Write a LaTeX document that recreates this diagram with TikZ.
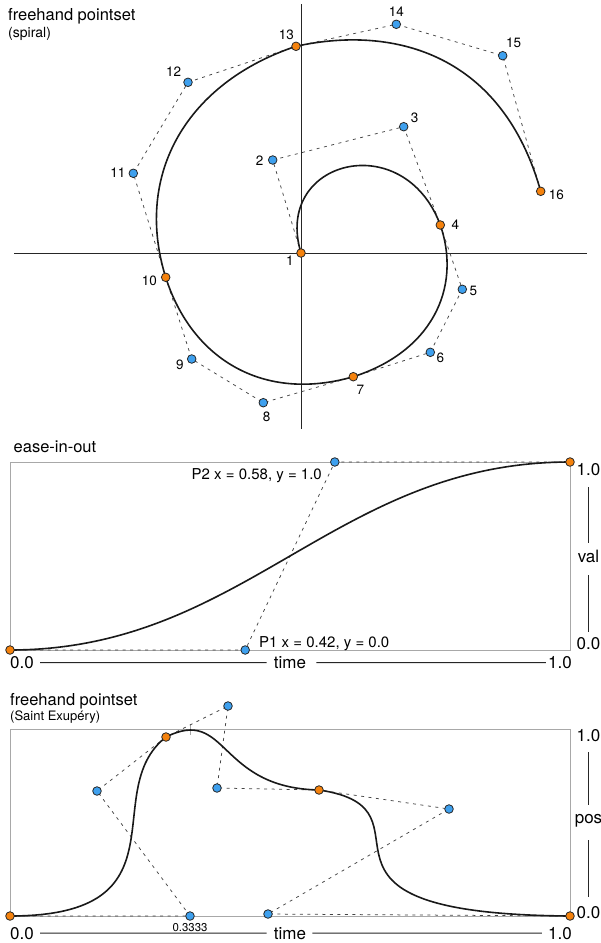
\documentclass[tikz,border=0pt]{standalone}
\usepackage{fontspec}
\setmainfont{TeX Gyre Heros}
\definecolor{ptorange}{HTML}{F5820D}
\definecolor{ptblue}{HTML}{3EA0EE}
\definecolor{boxgray}{HTML}{A8A8A8}
\definecolor{dashgray}{HTML}{454545}
\tikzset{
  orangept/.style={circle, fill=ptorange, draw=black!85, line width=0.8pt, minimum size=8.6pt, inner sep=0pt},
  bluept/.style={circle, fill=ptblue, draw=black!85, line width=0.8pt, minimum size=8.6pt, inner sep=0pt},
  ctrl/.style={draw=dashgray, line width=0.75pt, dash pattern=on 3pt off 4.5pt},
  curve/.style={draw=black!90, line width=1.6pt},
  axisline/.style={draw=black!85, line width=0.9pt},
  frame/.style={draw=boxgray, line width=1pt},
  num/.style={font=\fontsize{13.5}{15}\selectfont, inner sep=0pt},
  title/.style={font=\fontsize{16.5}{18}\selectfont, inner sep=0pt, anchor=base west},
  subtitle/.style={font=\fontsize{14}{15}\selectfont, inner sep=0pt, anchor=base west},
  subtitlesm/.style={font=\fontsize{13}{15}\selectfont, inner sep=0pt, anchor=base west},
  axlabel/.style={font=\fontsize{17}{19}\selectfont, inner sep=0pt},
  ptlabel/.style={font=\fontsize{15}{17}\selectfont, inner sep=0pt},
  ticklabel/.style={font=\fontsize{11.4}{13}\selectfont, inner sep=0pt},
}
\begin{document}
\begin{tikzpicture}[x=1pt,y=-1pt]
\useasboundingbox (0,0) rectangle (601,943);

% ================= spiral =================
\node[title] (t1) at (8,20.5) {freehand pointset};
\node[subtitle] (t1s) at (8,37.5) {(spiral)};

\coordinate (hl) at (14,253);
\coordinate (hr) at (587,253);
\coordinate (vt) at (301,4);
\coordinate (vb) at (301,429);
\draw[axisline] (hl) -- (hr);
\draw[axisline] (vt) -- (vb);

\foreach \n/\x/\y in {1/301/253, 2/272.7/160, 3/403.7/126.7, 4/440.3/225,
  5/462.3/289.3, 6/430.3/352.3, 7/353.3/376.7, 8/263.3/402.7, 9/191.7/359,
  10/165.7/277.3, 11/133.3/173.3, 12/188/82.3, 13/296/46.3, 14/396.3/24.3,
  15/502.7/55.7, 16/540.7/191.3}
  \coordinate (s\n) at (\x,\y);

\draw[ctrl] (s1) -- (s2) -- (s3) -- (s4) -- (s5) -- (s6) -- (s7) -- (s8) -- (s9)
  -- (s10) -- (s11) -- (s12) -- (s13) -- (s14) -- (s15) -- (s16);
\draw[curve] (s1) .. controls (s2) and (s3) .. (s4)
  .. controls (s5) and (s6) .. (s7)
  .. controls (s8) and (s9) .. (s10)
  .. controls (s11) and (s12) .. (s13)
  .. controls (s14) and (s15) .. (s16);

\foreach \n in {1,4,7,10,13,16} \node[orangept] (p\n) at (s\n) {};
\foreach \n in {2,3,5,6,8,9,11,12,14,15} \node[bluept] (p\n) at (s\n) {};

\foreach \n/\dx/\dy in {1/-11/8, 2/-13/1, 3/11/-8.5, 4/15/0, 5/11/1.3, 6/10/6,
  7/7/13.3, 8/3.4/14, 9/-11.7/5.7, 10/-16.4/4, 11/-15.5/-0.5, 12/-14.3/-10.3,
  13/-9.7/-11, 14/0/-13, 15/11/-13, 16/15.6/4}
  \node[num] (l\n) at ([shift={(\dx,\dy)}]s\n) {\n};

% ================= ease-in-out =================
\node[title] (t2) at (13.5,452.5) {ease-in-out};
\draw[frame] (10,462) rectangle (570,650);

\coordinate (e0) at (10,650);
\coordinate (e1) at (245.2,650);
\coordinate (e2) at (334.8,462);
\coordinate (e3) at (570,462);
\draw[ctrl] (e0) -- (e1) -- (e2) -- (e3);
\draw[curve] (e0) .. controls (e1) and (e2) .. (e3);
\node[orangept] (q0) at (e0) {};
\node[bluept] (q1) at (e1) {};
\node[bluept] (q2) at (e2) {};
\node[orangept] (q3) at (e3) {};
\node[ptlabel, anchor=base east] (lp2) at (322,479) {P2 x = 0.58, y = 1.0};
\node[ptlabel, anchor=base west] (lp1) at (259,647) {P1 x = 0.42, y = 0.0};

\node[axlabel, anchor=base west] (ex0) at (10,668.5) {0.0};
\node[axlabel, anchor=base] (ext) at (290,668.5) {time};
\node[axlabel, anchor=base east] (ex1) at (572,668.5) {1.0};
\draw[axisline, shorten <=6pt, shorten >=7pt] (ex0.east) -- (ext.west);
\draw[axisline, shorten <=10pt, shorten >=2pt] (ext.east) -- (ex1.west);

\node[axlabel, anchor=base] (ey1) at (588.5,475) {1.0};
\node[axlabel, anchor=base] (eyv) at (588.5,562) {val};
\node[axlabel, anchor=base] (ey0) at (588.5,649.3) {0.0};
\draw[axisline, shorten <=12pt, shorten >=6.5pt] (ey1.south) -- (eyv.north);
\draw[axisline, shorten <=13pt, shorten >=5pt] (eyv.south) -- (ey0.north);

% ================= Saint Exupery =================
\node[title] (t3) at (10,705.5) {freehand pointset};
\node[subtitlesm] (t3s) at (10,720) {(Saint Exupéry)};
\draw[frame] (10,729) rectangle (570,916);

\foreach \n/\x/\y in {0/10/916, 1/190/916, 2/97/791, 3/166/737, 4/228/706,
  5/217/788, 6/319/790, 7/449/809, 8/268/914, 9/570/916}
  \coordinate (b\n) at (\x,\y);

% gray marker at the maximum
\coordinate (mk) at (190,729.5);
\draw[gray!70, line width=0.8pt] ([xshift=-5pt]mk) -- ([xshift=5pt]mk);
\draw[gray!70, line width=0.8pt] ([yshift=-5.5pt]mk) -- ([yshift=5.5pt]mk);

\draw[ctrl] (b0) -- (b1) -- (b2) -- (b3) -- (b4) -- (b5) -- (b6) -- (b7) -- (b8) -- (b9);
\draw[curve] (b0) .. controls (b1) and (b2) .. (b3)
  .. controls (b4) and (b5) .. (b6)
  .. controls (b7) and (b8) .. (b9);

\foreach \n in {0,3,6,9} \node[orangept] (r\n) at (b\n) {};
\foreach \n in {1,2,4,5,7,8} \node[bluept] (r\n) at (b\n) {};
\node[ticklabel] (tk) at (190,928) {0.3333};

\node[axlabel, anchor=base west] (fx0) at (10,939) {0.0};
\node[axlabel, anchor=base] (fxt) at (290,939) {time};
\node[axlabel, anchor=base east] (fx1) at (572,939) {1.0};
\draw[axisline, shorten <=6pt, shorten >=7pt] (fx0.east) -- (fxt.west);
\draw[axisline, shorten <=6pt, shorten >=6pt] (fxt.east) -- (fx1.west);

\node[axlabel, anchor=base] (fy1) at (588.5,741) {1.0};
\node[axlabel, anchor=base] (fyp) at (588.5,823.3) {pos};
\node[axlabel, anchor=base] (fy0) at (588.5,918.7) {0.0};
\draw[axisline, shorten <=11pt, shorten >=9.4pt] (fy1.south) -- (fyp.north);
\draw[axisline, shorten <=13pt, shorten >=9.6pt] (fyp.south) -- (fy0.north);
\end{tikzpicture}
\end{document}
